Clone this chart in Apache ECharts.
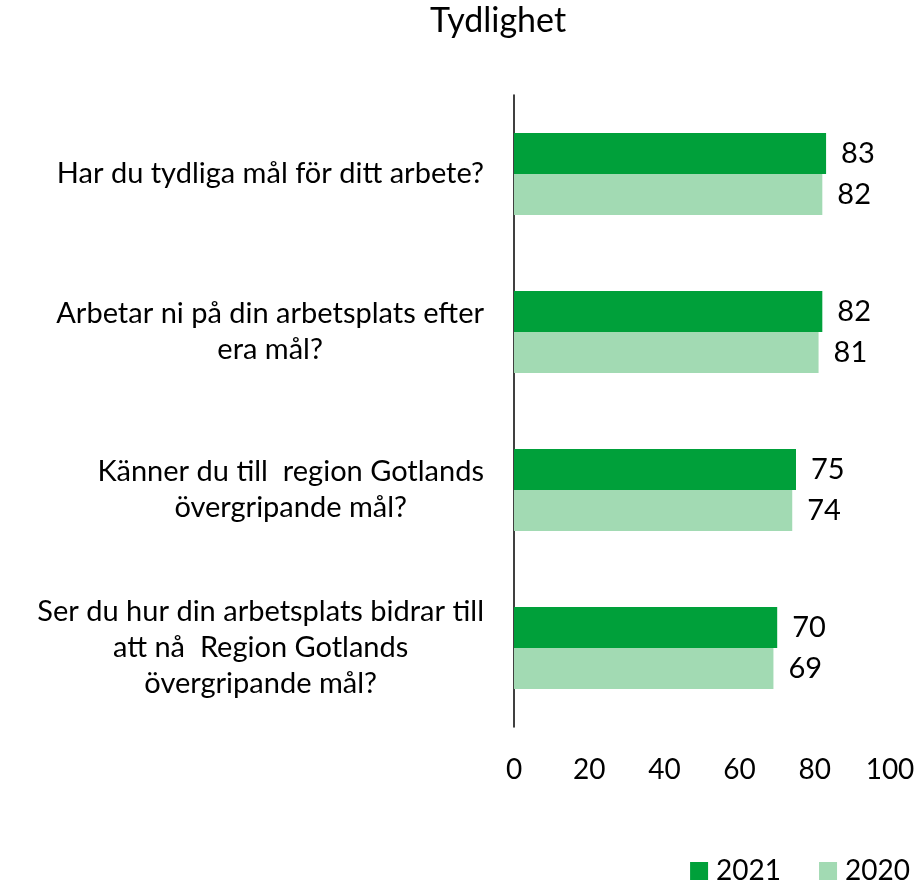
<!DOCTYPE html>
<html lang="sv">
<head>
<meta charset="UTF-8">
<title>Tydlighet</title>
<script src="https://cdn.jsdelivr.net/npm/echarts@6/dist/echarts.min.js"></script>
<style>
  html, body { margin: 0; padding: 0; background: #fff; }
  #chart { width: 920px; height: 885px; }
</style>
</head>
<body>
<div id="chart"></div>
<script>
// questions, top to bottom
var questions = [
  'Har du tydliga mål för ditt arbete?',
  'Arbetar ni på din arbetsplats efter\nera mål?',
  'Känner du till  region Gotlands\növergripande mål?',
  'Ser du hur din arbetsplats bidrar till\natt nå  Region Gotlands\növergripande mål?'
];
var values2021 = [83, 82, 75, 70];
var values2020 = [82, 81, 74, 69];
var xTicks = [0, 20, 40, 60, 80, 100];

var font = 'Lato';
var chart = echarts.init(document.getElementById('chart'));

function barLabel() {
  return {
    show: true,
    position: 'right',
    distance: 15,
    color: '#000',
    fontFamily: font,
    fontSize: 29
  };
}

chart.setOption({
  animation: false,
  title: {
    text: 'Tydlighet',
    left: 430,
    top: 4,
    padding: 0,
    textStyle: { fontFamily: font, fontSize: 34, fontWeight: 'normal', color: '#000' }
  },
  legend: {
    right: 10,
    top: 857,
    padding: 0,
    itemWidth: 18,
    itemHeight: 18,
    itemGap: 38,
    icon: 'rect',
    textStyle: { fontFamily: font, fontSize: 28, color: '#000', padding: [0, 0, 0, 3] },
    data: ['2021', '2020']
  },
  grid: { left: 514, right: 30, top: 95, bottom: 158 },
  xAxis: {
    type: 'value',
    min: xTicks[0],
    max: xTicks[xTicks.length - 1],
    interval: 20,
    axisLine: { show: false },
    axisTick: { show: false },
    splitLine: { show: false },
    axisLabel: { margin: 29, color: '#000', fontFamily: font, fontSize: 28 }
  },
  yAxis: {
    type: 'category',
    inverse: true,
    data: questions,
    axisLine: { show: true, lineStyle: { color: '#000', width: 1.5 } },
    axisTick: { show: false },
    axisLabel: {
      margin: 30,
      color: '#000',
      fontFamily: font,
      fontSize: 29,
      lineHeight: 36,
      align: 'right',
      formatter: function (v) {
        return v.split('\n').map(function (l) { return '{c|' + l + '}'; }).join('\n');
      },
      rich: {
        c: { align: 'center', fontFamily: font, fontSize: 29, lineHeight: 36, color: '#000' }
      }
    }
  },
  series: [
    {
      name: '2021',
      type: 'bar',
      data: values2021,
      barWidth: 41,
      barGap: '0%',
      itemStyle: { color: '#00A03A' },
      label: barLabel()
    },
    {
      name: '2020',
      type: 'bar',
      data: values2020,
      barWidth: 41,
      barGap: '0%',
      itemStyle: { color: '#A2DAB3' },
      label: barLabel()
    }
  ]
});
</script>
</body>
</html>
